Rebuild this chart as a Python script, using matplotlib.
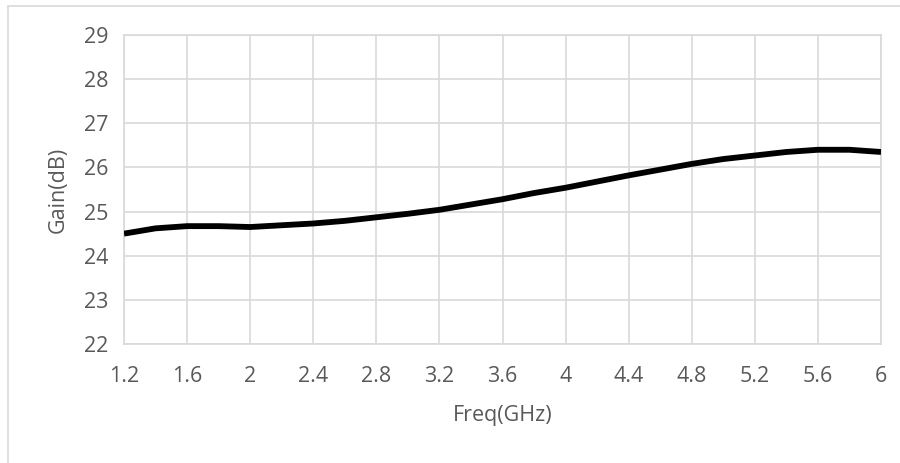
import matplotlib
matplotlib.use("Agg")
import matplotlib.pyplot as plt
from matplotlib.patches import Rectangle

freq = [1.2, 1.4, 1.6, 1.8, 2.0, 2.2, 2.4, 2.6, 2.8, 3.0, 3.2, 3.4, 3.6, 3.8,
        4.0, 4.2, 4.4, 4.6, 4.8, 5.0, 5.2, 5.4, 5.6, 5.8, 6.0]
gain = [24.50, 24.62, 24.67, 24.67, 24.65, 24.69, 24.73, 24.79, 24.87, 24.95,
        25.04, 25.16, 25.28, 25.42, 25.54, 25.68, 25.82, 25.95, 26.08, 26.19,
        26.27, 26.35, 26.40, 26.40, 26.35]
xticks = [1.2, 1.6, 2.0, 2.4, 2.8, 3.2, 3.6, 4.0, 4.4, 4.8, 5.2, 5.6, 6.0]
xticklabels = ["1.2", "1.6", "2", "2.4", "2.8", "3.2", "3.6", "4", "4.4", "4.8", "5.2", "5.6", "6"]
yticks = [22, 23, 24, 25, 26, 27, 28, 29]

plt.rcParams['font.family'] = ['Open Sans', 'DejaVu Sans']
txt = '#595959'
grid = '#d9d9d9'

fig = plt.figure(figsize=(9, 4.63), dpi=100)
fig.patches.append(Rectangle((8/900, -0.1), 1.2, 1 - 6/463 + 0.1, transform=fig.transFigure,
                             fill=False, edgecolor=grid, linewidth=1.2))
ax = fig.add_axes([124/900, 1 - 344/463, (881-124)/900, (344-35)/463])
ax.plot(freq, gain, color='black', linewidth=4.2, solid_capstyle='butt', zorder=3)
ax.set_xlim(1.2, 6.0)
ax.set_ylim(22, 29)
ax.set_xticks(xticks)
ax.set_xticklabels(xticklabels)
ax.set_yticks(yticks)
ax.grid(True, color=grid, linewidth=1.2)
for s in ax.spines.values():
    s.set_color(grid)
    s.set_linewidth(1.2)
ax.tick_params(length=0, labelsize=15.5, colors=txt)
ax.tick_params(axis='x', pad=16)
ax.tick_params(axis='y', pad=11)
fig.text(502.5/900, 1 - 416/463, 'Freq(GHz)', fontsize=15.5, color=txt,
         ha='center', va='center')
fig.text(58/900, 1 - 190/463, 'Gain(dB)', fontsize=15.5, color=txt,
         ha='center', va='center', rotation=90)
fig.savefig('out.png', dpi=100)
